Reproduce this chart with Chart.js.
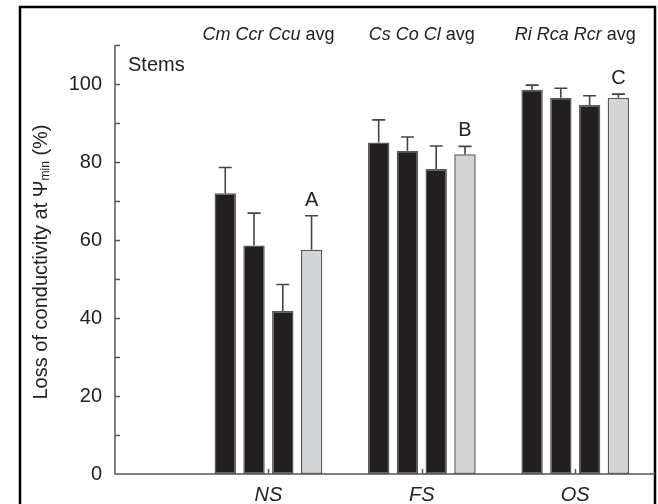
<!DOCTYPE html>
<html>
<head>
<meta charset="utf-8">
<script src="https://cdn.jsdelivr.net/npm/chart.js@4.4.1/dist/chart.umd.min.js"></script>
<style>
  html, body { margin: 0; padding: 0; background: #fff; }
  #wrap { position: relative; width: 658px; height: 504px; }
  canvas { display: block; }
</style>
</head>
<body>
<div id="wrap"><canvas id="c" width="658" height="504"></canvas></div>
<script>
// Site groups along the x axis (positions 1, 2, 3)
const sites = ['NS', 'FS', 'OS'];
const sitePos = [1, 2, 3];

// Species codes shown above each site group (italic), followed by "avg"
const speciesLabels = [['Cm', 'Ccr', 'Ccu'], ['Cs', 'Co', 'Cl'], ['Ri', 'Rca', 'Rcr']];

// Loss of conductivity (%) per species (1st, 2nd, 3rd in each group) and site average
const species1 = [72.0, 85.0, 98.5];
const species2 = [58.6, 82.9, 96.5];
const species3 = [41.8, 78.2, 94.6];
const siteAvg  = [57.5, 82.0, 96.5];

// Standard errors (upper whiskers)
const err1   = [6.6, 5.8, 1.2];
const err2   = [8.3, 3.5, 2.4];
const err3   = [6.8, 5.9, 2.4];
const errAvg = [8.7, 2.0, 0.9];

// Significance letters over the site averages
const sigLetters = ['A', 'B', 'C'];

// y-axis tick values
const yMajorTicks = [0, 20, 40, 60, 80, 100];

const FONT = '"Liberation Sans", Arial, Helvetica, sans-serif';
const INK = '#222222';
const AXIS = '#555555';

function pts(vals) { return vals.map((v, i) => ({ x: sitePos[i], y: v })); }

const errs = [err1, err2, err3, errAvg];

// Outer frame, axis ticks, error bars and annotations
const decorations = {
  id: 'decorations',
  afterDraw(chart) {
    const ctx = chart.ctx;
    const xs = chart.scales.x, ys = chart.scales.y;
    const area = chart.chartArea;
    ctx.save();

    // outer frame (open at the bottom)
    ctx.strokeStyle = '#000';
    ctx.lineWidth = 2.5;
    ctx.beginPath();
    ctx.moveTo(20, 504);
    ctx.lineTo(20, 7);
    ctx.lineTo(655, 7);
    ctx.lineTo(655, 504);
    ctx.stroke();

    // axes
    ctx.strokeStyle = AXIS;
    ctx.lineWidth = 1.5;
    const y0 = ys.getPixelForValue(0);
    const yTop = ys.getPixelForValue(ys.max);
    ctx.beginPath();
    ctx.moveTo(area.left, yTop);
    ctx.lineTo(area.left, y0);
    ctx.lineTo(655, y0);
    ctx.stroke();

    // inward y ticks every 10
    ctx.beginPath();
    for (let v = 10; v <= ys.max; v += 10) {
      const py = Math.round(ys.getPixelForValue(v)) + 0.5;
      ctx.moveTo(area.left, py);
      ctx.lineTo(area.left + 5, py);
    }
    // inward x ticks at site centres
    sitePos.forEach(p => {
      const px = Math.round(xs.getPixelForValue(p)) + 0.5;
      ctx.moveTo(px, y0);
      ctx.lineTo(px, y0 - 5);
    });
    ctx.stroke();

    // error bars (upper whiskers)
    ctx.strokeStyle = '#444';
    ctx.lineWidth = 1.6;
    chart.data.datasets.forEach((ds, di) => {
      const meta = chart.getDatasetMeta(di);
      meta.data.forEach((bar, i) => {
        const top = ys.getPixelForValue(ds.data[i].y + errs[di][i]);
        const half = 6.5;
        ctx.beginPath();
        ctx.moveTo(bar.x, bar.y);
        ctx.lineTo(bar.x, top);
        ctx.moveTo(bar.x - half, top);
        ctx.lineTo(bar.x + half, top);
        ctx.stroke();
      });
    });

    // significance letters above the averages
    ctx.fillStyle = INK;
    ctx.font = '20px ' + FONT;
    ctx.textAlign = 'center';
    ctx.textBaseline = 'alphabetic';
    const avgMeta = chart.getDatasetMeta(3);
    avgMeta.data.forEach((bar, i) => {
      const top = ys.getPixelForValue(siteAvg[i] + errAvg[i]);
      ctx.fillText(sigLetters[i], bar.x, top - 10);
    });

    // species headers over each group
    const HS = '18px ';
    sitePos.forEach((p, i) => {
      const cx = xs.getPixelForValue(p);
      const parts = speciesLabels[i].map(s => ({ t: s + ' ', italic: true }));
      parts.push({ t: 'avg', italic: false });
      let total = 0;
      parts.forEach(pt => {
        ctx.font = (pt.italic ? 'italic ' : '') + HS + FONT;
        pt.w = ctx.measureText(pt.t).width;
        total += pt.w;
      });
      let x = cx - total / 2;
      ctx.textAlign = 'left';
      parts.forEach(pt => {
        ctx.font = (pt.italic ? 'italic ' : '') + HS + FONT;
        ctx.fillText(pt.t, x, 40);
        x += pt.w;
      });
    });

    // site names under the axis
    ctx.textAlign = 'center';
    ctx.font = 'italic 20px ' + FONT;
    sites.forEach((s, i) => {
      ctx.fillText(s, xs.getPixelForValue(sitePos[i]), 501);
    });

    // panel label
    ctx.textAlign = 'left';
    ctx.font = '20px ' + FONT;
    ctx.fillText('Stems', 128, 71);

    // y-axis title with subscript
    ctx.translate(41, 262);
    ctx.rotate(-Math.PI / 2);
    const segs = [
      { t: 'Loss of conductivity at \u03A8', f: '20px ' + FONT, dy: 0 },
      { t: 'min', f: '12px ' + FONT, dy: 5 },
      { t: ' (%)', f: '20px ' + FONT, dy: 0 }
    ];
    let tw = 0;
    segs.forEach(s => { ctx.font = s.f; s.w = ctx.measureText(s.t).width; tw += s.w; });
    let sx = -tw / 2;
    ctx.textBaseline = 'middle';
    segs.forEach(s => {
      ctx.font = s.f;
      ctx.fillText(s.t, sx, s.dy);
      sx += s.w;
    });

    ctx.restore();
  }
};

const barStyle = (fill) => ({
  backgroundColor: fill,
  borderColor: '#5a5a5a',
  borderWidth: 1.5,
  borderSkipped: false,
  categoryPercentage: 0.75,
  barPercentage: 0.745
});

new Chart(document.getElementById('c'), {
  type: 'bar',
  data: {
    datasets: [
      Object.assign({ label: speciesLabels.map(g => g[0]).join('/'), data: pts(species1) }, barStyle('#231f20')),
      Object.assign({ label: speciesLabels.map(g => g[1]).join('/'), data: pts(species2) }, barStyle('#231f20')),
      Object.assign({ label: speciesLabels.map(g => g[2]).join('/'), data: pts(species3) }, barStyle('#231f20')),
      Object.assign({ label: 'avg', data: pts(siteAvg) }, barStyle('#d3d4d6'))
    ]
  },
  options: {
    responsive: false,
    animation: false,
    layout: { padding: { left: 0, right: 3, top: 45, bottom: 30 } },
    plugins: { legend: { display: false }, tooltip: { enabled: false } },
    scales: {
      x: {
        type: 'linear',
        min: 0,
        max: 3.52,
        offset: false,
        afterBuildTicks(scale) { scale.ticks = sitePos.map(v => ({ value: v })); },
        grid: { display: false, drawTicks: false, offset: false },
        border: { display: false },
        ticks: { display: false }
      },
      y: {
        min: 0,
        max: 110,
        afterFit(scale) { scale.width = 115; },
        grid: { display: false, drawTicks: false },
        border: { display: false },
        afterBuildTicks(scale) { scale.ticks = yMajorTicks.map(v => ({ value: v })); },
        ticks: {
          color: INK,
          padding: 13,
          font: { family: FONT, size: 20 }
        }
      }
    }
  },
  plugins: [decorations]
});
</script>
</body>
</html>
